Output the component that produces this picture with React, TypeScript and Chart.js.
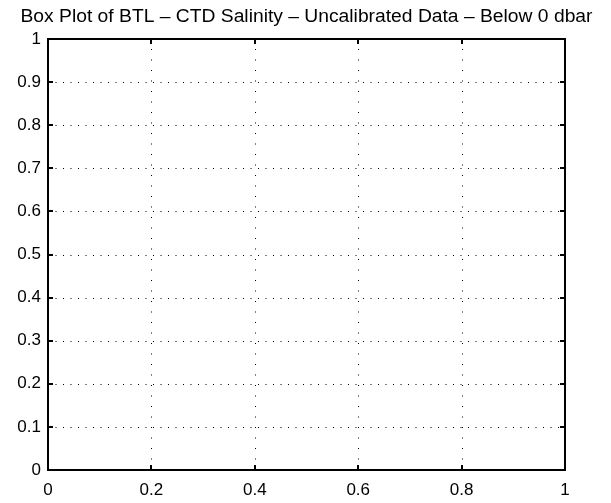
import React, { useEffect, useRef } from "react";
import { Chart, registerables } from "chart.js";

Chart.register(...registerables);

const titleText = "Box Plot of BTL \u2013 CTD Salinity \u2013 Uncalibrated Data \u2013 Below 0 dbar";
const xTicks = [0, 0.2, 0.4, 0.6, 0.8, 1];
const yTicks = [0, 0.1, 0.2, 0.3, 0.4, 0.5, 0.6, 0.7, 0.8, 0.9, 1];
const seriesX: number[] = [];
const seriesY: number[] = [];

const FONT = "'Liberation Sans', Arial, sans-serif";

const framePlugin = {
  id: "matlabFrame",
  beforeDatasetsDraw(chart: any) {
    const ctx = chart.ctx as CanvasRenderingContext2D;
    const { left, right, top, bottom } = chart.chartArea;
    const xs = chart.scales.x;
    const ys = chart.scales.y;
    ctx.save();
    ctx.strokeStyle = "#000";
    ctx.lineWidth = 1;
    ctx.setLineDash([1, 9.5]);
    xTicks.forEach((v) => {
      if (v === xTicks[0] || v === xTicks[xTicks.length - 1]) return;
      const px = Math.round(xs.getPixelForValue(v)) + 0.5;
      ctx.beginPath();
      ctx.moveTo(px, bottom);
      ctx.lineTo(px, top);
      ctx.stroke();
    });
    ctx.setLineDash([1, 6.5]);
    yTicks.forEach((v) => {
      if (v === yTicks[0] || v === yTicks[yTicks.length - 1]) return;
      const py = Math.round(ys.getPixelForValue(v)) + 0.5;
      ctx.beginPath();
      ctx.moveTo(left, py);
      ctx.lineTo(right, py);
      ctx.stroke();
    });
    ctx.setLineDash([]);
    ctx.lineWidth = 2;
    const tl = 5;
    xTicks.forEach((v) => {
      const px = Math.round(xs.getPixelForValue(v));
      ctx.beginPath();
      ctx.moveTo(px, bottom);
      ctx.lineTo(px, bottom - tl);
      ctx.moveTo(px, top);
      ctx.lineTo(px, top + tl);
      ctx.stroke();
    });
    yTicks.forEach((v) => {
      const py = Math.round(ys.getPixelForValue(v));
      ctx.beginPath();
      ctx.moveTo(left, py);
      ctx.lineTo(left + tl, py);
      ctx.moveTo(right, py);
      ctx.lineTo(right - tl, py);
      ctx.stroke();
    });
    ctx.strokeRect(Math.round(left), Math.round(top), Math.round(right - left), Math.round(bottom - top));
    // title, stretched to the reference width
    ctx.fillStyle = "#000";
    ctx.font = `17.5px ${FONT}`;
    ctx.textAlign = "center";
    ctx.textBaseline = "alphabetic";
    const w = ctx.measureText(titleText).width;
    const sx = 572 / w;
    ctx.translate((left + right) / 2, 22);
    ctx.scale(sx, 1);
    ctx.fillText(titleText, 0, 0);
    ctx.restore();
  },
};

export default function App() {
  const ref = useRef<HTMLCanvasElement | null>(null);
  useEffect(() => {
    if (!ref.current) return;
    const chart = new Chart(ref.current, {
      type: "scatter",
      data: {
        datasets: [
          {
            label: "data",
            data: seriesX.map((x, i) => ({ x, y: seriesY[i] })),
            pointRadius: 3,
            borderColor: "#000",
            backgroundColor: "#000",
          },
        ],
      },
      options: {
        animation: false,
        responsive: false,
        maintainAspectRatio: false,
        layout: { padding: { top: 39, right: 46, left: 0, bottom: 0 } },
        plugins: {
          legend: { display: false },
          title: { display: false },
          tooltip: { enabled: false },
        },
        scales: {
          x: {
            type: "linear",
            min: 0,
            max: 1,
            afterBuildTicks: (s: any) => {
              s.ticks = xTicks.map((v) => ({ value: v }));
            },
            afterFit: (s: any) => {
              s.height = 33;
            },
            grid: { display: false, drawTicks: false },
            border: { display: false },
            ticks: {
              color: "#000",
              font: { family: FONT, size: 17 },
              padding: 10,
              maxRotation: 0,
              autoSkip: false,
              callback: (v: any) => String(Math.round(Number(v) * 10) / 10),
            },
          },
          y: {
            type: "linear",
            min: 0,
            max: 1,
            afterBuildTicks: (s: any) => {
              s.ticks = yTicks.map((v) => ({ value: v }));
            },
            afterFit: (s: any) => {
              s.width = 48;
            },
            grid: { display: false, drawTicks: false },
            border: { display: false },
            ticks: {
              color: "#000",
              font: { family: FONT, size: 17 },
              padding: 7,
              autoSkip: false,
              callback: (v: any) => String(Math.round(Number(v) * 10) / 10),
            },
          },
        },
      },
      plugins: [framePlugin],
    });
    return () => chart.destroy();
  }, []);
  return (
    <div style={{ position: "fixed", left: 0, top: 0, width: 611, height: 503, background: "#fff" }}>
      <canvas ref={ref} width={611} height={503} style={{ width: 611, height: 503, display: "block" }} />
    </div>
  );
}
